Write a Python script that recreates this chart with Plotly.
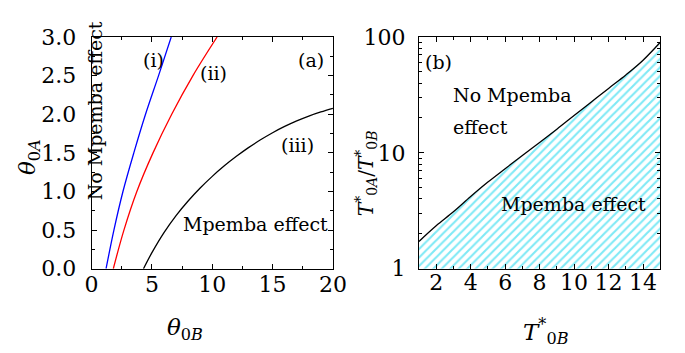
import numpy as np
import plotly.graph_objects as go

# ---------------- Panel (a) data ----------------
theta_A = [0, 0.5, 1.0, 1.5, 2.0, 2.5, 3.0]
theta_B_i = [1.2, 1.85, 2.6, 3.5, 4.47, 5.55, 6.6]
theta_B_ii = [1.8, 2.68, 3.75, 5.09, 6.64, 8.4, 10.4]
theta_B_iii = [4.3, 5, 6, 7, 8, 9, 10, 11, 12, 13, 14, 15, 16, 17, 18, 19, 20]
theta_A_iii = [0, 0.208, 0.468, 0.688, 0.877, 1.045, 1.196, 1.332, 1.455, 1.568, 1.669,
               1.761, 1.842, 1.914, 1.977, 2.03, 2.077]

# ---------------- Panel (b) data ----------------
T0B = [1, 2, 3, 4, 5, 6, 7, 8, 9, 10, 11, 12, 13, 14, 15]
ratio = [1.72, 2.35, 3.1, 4.2, 5.6, 7.3, 9.5, 12.3, 16, 21, 27.5, 36, 47, 63, 90]

W, H = 685, 353
FONT = "DejaVu Serif"


def px(x):
    return x / W


def py(y):
    return 1 - y / H


fig = go.Figure()

fig.add_trace(go.Scatter(x=theta_B_i, y=theta_A, mode="lines", line=dict(color="#0000ff", width=1.3, shape="spline"),
                         xaxis="x", yaxis="y", showlegend=False))
fig.add_trace(go.Scatter(x=theta_B_ii, y=theta_A, mode="lines", line=dict(color="#ff0000", width=1.3, shape="spline"),
                         xaxis="x", yaxis="y", showlegend=False))
fig.add_trace(go.Scatter(x=theta_B_iii, y=theta_A_iii, mode="lines",
                         line=dict(color="black", width=1.3, shape="spline"),
                         xaxis="x", yaxis="y", showlegend=False))

# hatched region under the boundary
fig.add_trace(go.Scatter(x=T0B + [T0B[-1], T0B[0]], y=ratio + [1, 1], mode="lines", fill="toself",
                         line=dict(width=0, color="rgba(0,0,0,0)"),
                         fillcolor="white",
                         fillpattern=dict(shape="/", fgcolor="#00d4ec", bgcolor="white", size=6, solidity=0.35),
                         xaxis="x2", yaxis="y2", showlegend=False, hoverinfo="skip"))
fig.add_trace(go.Scatter(x=T0B, y=ratio, mode="lines", line=dict(color="black", width=1.3, shape="spline"),
                         xaxis="x2", yaxis="y2", showlegend=False))

tickfont = dict(family=FONT, size=22, color="black")
common = dict(showgrid=False, zeroline=False, showline=True, linecolor="black", linewidth=1,
              ticks="inside", ticklen=5, tickcolor="black", mirror="allticks", tickfont=tickfont)

fig.update_layout(
    width=W, height=H,
    margin=dict(l=0, r=0, t=0, b=0),
    paper_bgcolor="white", plot_bgcolor="white",
    font=dict(family=FONT, color="black"),
    xaxis=dict(domain=[79 / W, 328 / W], anchor="y", range=[0, 20], dtick=5, tick0=0,
               minor=dict(ticks="inside", ticklen=3, dtick=2.5, tickcolor="black"), ticklabelstandoff=-4, **common),
    yaxis=dict(domain=[py(267.7), py(18.3)], anchor="x", range=[0, 3], dtick=0.5, tickformat=".1f",
               minor=dict(ticks="inside", ticklen=3, dtick=0.25, tickcolor="black"), ticklabelstandoff=10, **common),
    xaxis2=dict(domain=[416.7 / W, 665.7 / W], anchor="y2", range=[1, 15], dtick=2, tick0=0,
                minor=dict(ticks="inside", ticklen=3, dtick=1, tickcolor="black"), ticklabelstandoff=-6, **common),
    yaxis2=dict(domain=[py(267.7), py(18.3)], anchor="x2", type="log", range=[0, 2],
                tickvals=[1, 10, 100], ticktext=["1", "10", "100"],
                minor=dict(ticks="inside", ticklen=3, dtick="D1", tickcolor="black"), ticklabelstandoff=8, **common),
)

ann_font = dict(family=FONT, size=19, color="black")
anns = [
    dict(x=5.14, y=2.70, xref="x", yref="y", text="(i)"),
    dict(x=10.1, y=2.53, xref="x", yref="y", text="(ii)"),
    dict(x=18.15, y=2.70, xref="x", yref="y", text="(a)"),
    dict(x=17.1, y=1.60, xref="x", yref="y", text="(iii)"),
    dict(x=13.6, y=0.574, xref="x", yref="y", text="Mpemba effect"),
    dict(x=0.3, y=2.04, xref="x", yref="y", text="No Mpemba effect", textangle=-90),
    dict(x=2.12, y=np.log10(61), xref="x2", yref="y2", text="(b)"),
    dict(x=2.87, y=np.log10(31.9), xref="x2", yref="y2", text="No Mpemba", xanchor="left"),
    dict(x=2.87, y=np.log10(16.8), xref="x2", yref="y2", text="effect", xanchor="left"),
    dict(x=9.95, y=np.log10(3.6), xref="x2", yref="y2", text="Mpemba effect"),
]
for a in anns:
    a.setdefault("xanchor", "center")
    a.update(yanchor="middle", showarrow=False, font=ann_font)
    fig.add_annotation(**a)

titles = [
    dict(x=px(14), y=py(148), text="<i>θ</i><sub>0<i>A</i></sub>", textangle=-90, size=23),
    dict(x=px(175), y=py(333), text="<i>θ</i><sub>0<i>B</i></sub>", size=23),
    dict(x=px(362), y=py(165), text="<i>T</i><sup>*</sup><sub>0<i>A</i></sub>/<i>T</i><sup>*</sup><sub>0<i>B</i></sub>",
         textangle=-90, size=20),
    dict(x=px(548), y=py(335), text="<i>T</i><sup>*</sup><sub>0<i>B</i></sub>", size=23),
]
for t in titles:
    s = t.pop("size")
    t.update(xref="paper", yref="paper", xanchor="center", yanchor="middle", showarrow=False,
             font=dict(family=FONT, size=s, color="black"))
    fig.add_annotation(**t)

fig.write_html("out.html")
